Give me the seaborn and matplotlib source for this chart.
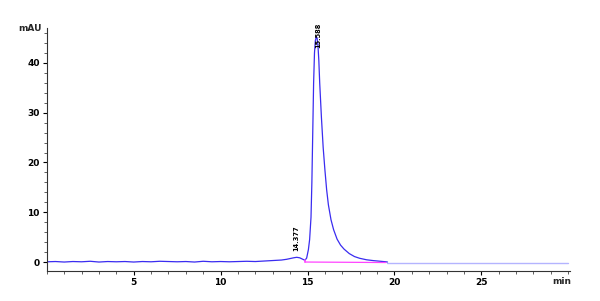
import matplotlib
matplotlib.use("Agg")
import matplotlib.pyplot as plt
import matplotlib.transforms as mtransforms
import seaborn as sns
import pandas as pd
from matplotlib.ticker import MultipleLocator

# ---- data ----
trace_time = [0, 0.5, 1, 1.5, 2, 2.5, 3, 3.5, 4, 4.5, 5, 5.5, 6, 6.5, 7, 7.5, 8, 8.5,
              9, 9.5, 10, 10.5, 11, 11.5, 12, 12.5, 13, 13.5, 13.8, 14.0, 14.2, 14.377,
              14.55, 14.7, 14.85, 14.95, 15.05, 15.12, 15.2, 15.25, 15.3, 15.35, 15.4,
              15.45, 15.5, 15.55, 15.6, 15.65, 15.7, 15.8, 15.9, 16.0, 16.1, 16.2, 16.35,
              16.5, 16.7, 16.9, 17.1, 17.4, 17.7, 18.0, 18.4, 18.8, 19.2, 19.5, 19.6]
trace_mau = [0.05, 0.1, 0.0, 0.1, 0.05, 0.15, 0.0, 0.1, 0.05, 0.1, 0.0, 0.1, 0.05, 0.15,
             0.1, 0.05, 0.1, 0.0, 0.15, 0.05, 0.1, 0.05, 0.1, 0.15, 0.1, 0.2, 0.3, 0.4,
             0.55, 0.7, 0.85, 0.95, 0.85, 0.6, 0.35, 0.8, 2.5, 4.5, 9.0, 16.0, 26.0, 36.0,
             42.0, 44.5, 45.2, 45.0, 43.5, 40.5, 36.0, 29.0, 23.0, 18.5, 14.5, 11.5, 8.5,
             6.5, 4.6, 3.4, 2.6, 1.7, 1.1, 0.75, 0.45, 0.28, 0.15, 0.05, 0.0]
tail_time = [19.6, 30.0]
tail_mau = [-0.2, -0.2]
base_time = [14.85, 19.5]
base_mau = [0.0, -0.1]
peak_times = [14.377, 15.588]
peak_labels = ["14.377", "15.588"]
peak_label_y = [2.3, 43.0]

y_ticks = [0, 10, 20, 30, 40]
x_ticks = [5, 10, 15, 20, 25]

sns.set_style("ticks")
plt.rcParams["font.family"] = ["DejaVu Sans"]

fig = plt.figure(figsize=(6.0, 3.01), dpi=100)
ax = fig.add_axes([0.078, 0.0997, 0.872, 0.807])

df = pd.DataFrame({"t": trace_time, "v": trace_mau})
sns.lineplot(data=df, x="t", y="v", ax=ax, color="#3a2cf0", lw=0.9,
             sort=False, estimator=None)
sns.lineplot(x=tail_time, y=tail_mau, ax=ax, color="#b4b4ff", lw=1.0,
             sort=False, estimator=None)
sns.lineplot(x=base_time, y=base_mau, ax=ax, color="#ff44ff", lw=0.9,
             sort=False, estimator=None)
ax.plot([14.85, 14.85], [0.0, 0.4], color="#ff44ff", lw=1.2)

for t, lab, y in zip(peak_times, peak_labels, peak_label_y):
    ax.text(t, y, lab, rotation=90, ha="center", va="bottom",
            fontsize=4.8, fontweight="bold", color="black")

ax.set_xlim(0, 30.1)
ax.set_ylim(-1.8, 47)
ax.set_xticks(x_ticks)
ax.set_yticks(y_ticks)
ax.xaxis.set_minor_locator(MultipleLocator(1))
ax.yaxis.set_minor_locator(MultipleLocator(2))
ax.tick_params(axis="both", which="major", direction="out", length=3, width=0.8,
               labelsize=6.5, pad=2, colors="black")
ax.tick_params(axis="both", which="minor", direction="out", length=2, width=0.6,
               colors="#444444")
for lbl in ax.get_xticklabels() + ax.get_yticklabels():
    lbl.set_fontweight("bold")
ax.set_xlabel("")
ax.set_ylabel("")
sns.despine(ax=ax)
for s in ["left", "bottom"]:
    ax.spines[s].set_linewidth(0.8)
    ax.spines[s].set_color("#333333")

ax.text(-0.01, 1.0, "mAU", transform=ax.transAxes, ha="right", va="center",
        fontsize=6.5, fontweight="bold")
trans = mtransforms.blended_transform_factory(ax.transData, ax.transAxes)
ax.text(29.6, -0.025, "min", transform=trans, ha="center", va="top",
        fontsize=6.5, fontweight="bold")

fig.savefig("out.png", dpi=100)
